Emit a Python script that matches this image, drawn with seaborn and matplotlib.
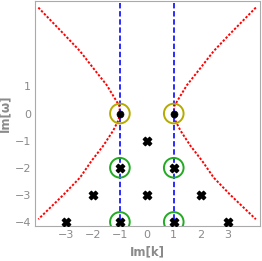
import matplotlib
matplotlib.use("Agg")
import matplotlib.pyplot as plt
import seaborn as sns
import pandas as pd

# Red dashed curves, left and right branches
left_x = [-4.03, -3.1, -2.48, -1.93, -1.49, -1.19, -1.02, -1.0,
          -1.06, -1.25, -1.62, -2.05, -2.48, -3.1, -4.03]
left_y = [3.91, 2.95, 2.3, 1.6, 1.05, 0.56, 0.28, 0.0,
          -0.26, -0.63, -1.19, -1.74, -2.36, -3.0, -3.9]
right_x = [4.05, 3.1, 2.48, 1.93, 1.49, 1.19, 1.02, 1.0,
           1.06, 1.25, 1.62, 2.05, 2.48, 3.1, 4.05]
right_y = [3.91, 2.95, 2.3, 1.6, 1.05, 0.56, 0.28, 0.0,
           -0.26, -0.63, -1.19, -1.74, -2.36, -3.0, -3.9]

# Blue dashed vertical lines
vline_x = [-1, 1]
vline_top = 4.07
vline_bottom = -4.0

# Black filled dots
dot_x = [-1, 1]
dot_y = [0, 0]

# Black X markers
sq_x = [0, -1, 1, -2, 0, 2, -3, -1, 1, 3]
sq_y = [-1, -2, -2, -3, -3, -3, -4, -4, -4, -4]

# Rings
olive_x = [-1, 1]
olive_y = [0, 0]
green_x = [-1, 1, -1, 1]
green_y = [-2, -2, -4, -4]

xticks = [-3, -2, -1, 0, 1, 2, 3]
yticks = [-4, -3, -2, -1, 0, 1]

sns.set_style("white")
fig = plt.figure(figsize=(2.62, 2.61), dpi=100)
ax = fig.add_axes([0.134, 0.134, 0.858, 0.862])

gray = "#8a8a8a"
red = "#ff0000"

dfl = pd.DataFrame({"x": left_x, "y": left_y})
dfr = pd.DataFrame({"x": right_x, "y": right_y})
for d in (dfl, dfr):
    sns.lineplot(data=d, x="x", y="y", sort=False, estimator=None, color=red,
                 lw=1.4, ax=ax, linestyle=(0, (1.2, 0.9)))

for vx in vline_x:
    dv = pd.DataFrame({"x": [vx, vx], "y": [vline_top, vline_bottom]})
    sns.lineplot(data=dv, x="x", y="y", sort=False, estimator=None,
                 color="#1a1aff", lw=1.3, ax=ax, linestyle=(0, (3, 1.5)))

sns.scatterplot(x=olive_x, y=olive_y, s=200, facecolor="none",
                edgecolor="#b5aa00", linewidth=1.4, ax=ax, zorder=4)
sns.scatterplot(x=green_x, y=green_y, s=200, facecolor="none",
                edgecolor="#22aa22", linewidth=1.4, ax=ax, zorder=4)
sns.scatterplot(x=dot_x, y=dot_y, s=26, color="black", edgecolor="black",
                marker="o", ax=ax, zorder=5)
sns.scatterplot(x=sq_x, y=sq_y, s=36, color="black", edgecolor="black",
                marker="X", linewidth=1.0, ax=ax, zorder=5)

ax.set_xlim(-4.15, 4.2)
ax.set_ylim(-4.15, 4.15)
ax.set_xticks(xticks)
ax.set_yticks(yticks)
ax.set_xticklabels([str(t).replace("-", "\u2212") for t in xticks])
ax.set_yticklabels([str(t).replace("-", "\u2212") for t in yticks])
ax.tick_params(axis="both", colors=gray, labelsize=8, length=2.5, width=0.6,
               direction="in", pad=3)
for sp in ax.spines.values():
    sp.set_color("#aaaaaa")
    sp.set_linewidth(0.8)
ax.set_xlabel("Im[k]", color=gray, fontsize=8.5, fontweight="bold", labelpad=4)
ax.set_ylabel("Im[\u03c9]", color=gray, fontsize=8.5, fontweight="bold", labelpad=2)

fig.savefig("out.png", dpi=100)
